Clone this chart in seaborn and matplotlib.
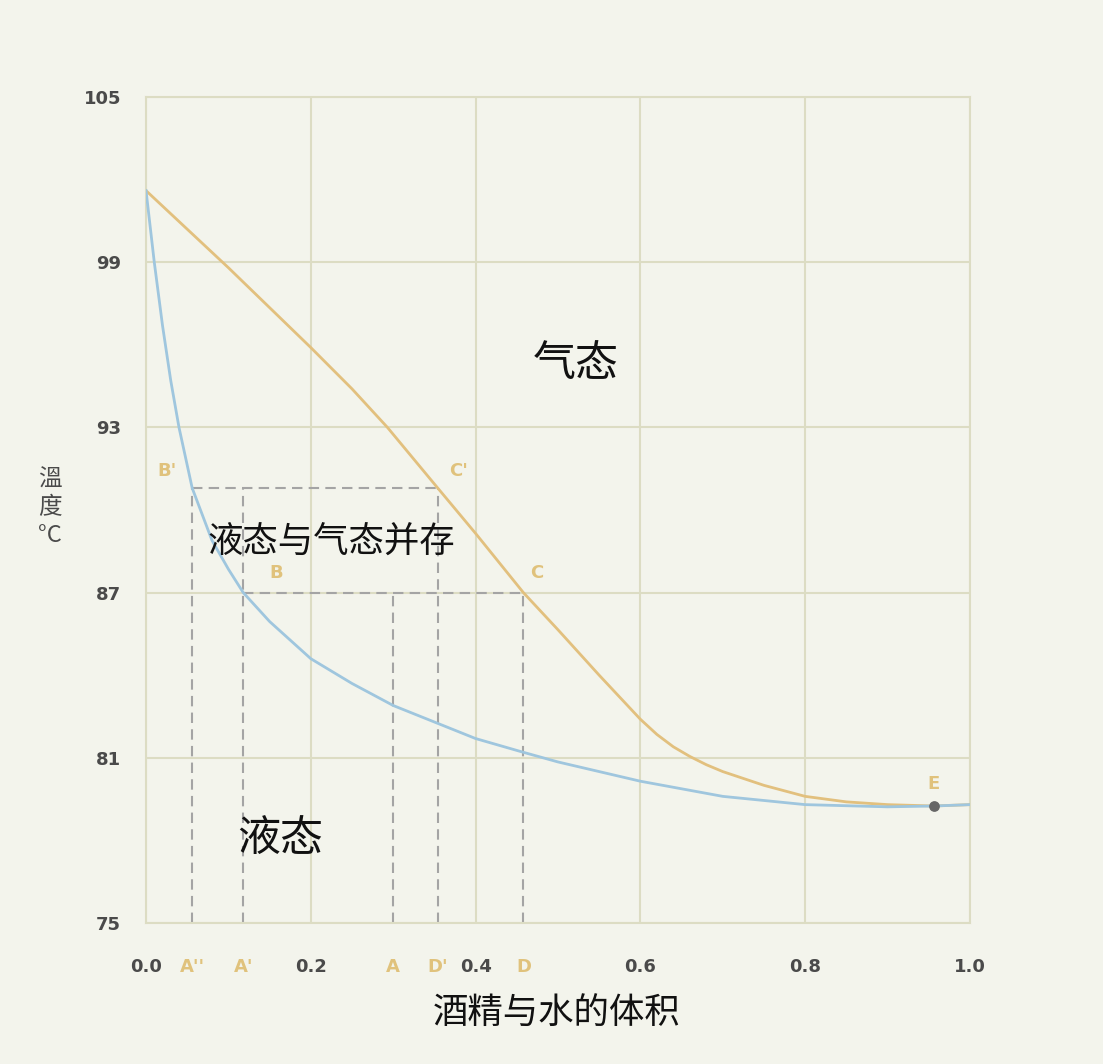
"""Ethanol-water boiling diagram (temperature vs volume fraction)."""

import matplotlib
matplotlib.use("Agg")
import matplotlib.pyplot as plt
import numpy as np
import pandas as pd
import seaborn as sns

# vapour (dew) line
vapor_x = [0.0, 0.05, 0.1, 0.15, 0.2, 0.25, 0.293, 0.354, 0.4, 0.458, 0.5, 0.55,
           0.6, 0.62, 0.64, 0.66, 0.68, 0.7, 0.75, 0.8, 0.85, 0.9, 0.956, 1.0]
vapor_y = [101.6, 100.2, 98.8, 97.35, 95.9, 94.4, 93.0, 90.8, 89.15, 87.0, 85.65, 84.0,
           82.4, 81.85, 81.4, 81.05, 80.75, 80.5, 80.0, 79.6, 79.4, 79.3, 79.25, 79.3]
# liquid (bubble) line
liquid_x = [0.0, 0.01, 0.02, 0.03, 0.04, 0.056, 0.08, 0.1, 0.118, 0.15, 0.2, 0.25, 0.3,
            0.35, 0.4, 0.458, 0.5, 0.6, 0.7, 0.8, 0.9, 0.956, 1.0]
liquid_y = [101.6, 99.0, 96.7, 94.7, 93.0, 90.8, 88.9, 87.85, 87.0, 85.95, 84.6, 83.7, 82.9,
            82.3, 81.7, 81.2, 80.85, 80.15, 79.6, 79.3, 79.22, 79.25, 79.3]

# marked points
pt_names = ["B'", "C'", "B", "C", "E"]
pt_x = [0.056, 0.354, 0.118, 0.458, 0.956]
pt_y = [90.8, 90.8, 87.0, 87.0, 79.25]

letter_ticks = [0.056, 0.118, 0.3, 0.354, 0.458]
letter_labels = ["A''", "A'", "A", "D'", "D"]
num_ticks = [0.0, 0.2, 0.4, 0.6, 0.8, 1.0]
y_ticks = [75, 81, 87, 93, 99, 105]

BG = "#f3f4ec"
GRID = "#dcdcc3"
GOLD = "#e0c27c"
ORANGE = "#e2c07e"
BLUE = "#9fc6de"
DARK = "#4a4a4a"
CJK = ["Noto Sans CJK SC", "DejaVu Sans"]

plt.rcParams["font.family"] = CJK

fig = plt.figure(figsize=(11.03, 10.64), dpi=100, facecolor=BG)
ax = fig.add_axes([0.1324, 0.1325, 0.747, 0.7763], facecolor=BG)

df = pd.concat([
    pd.DataFrame({"x": vapor_x, "y": vapor_y, "curve": "vapor"}),
    pd.DataFrame({"x": liquid_x, "y": liquid_y, "curve": "liquid"}),
])
sns.lineplot(data=df, x="x", y="y", hue="curve", palette={"vapor": ORANGE, "liquid": BLUE},
             sort=False, estimator=None, lw=2, legend=False, ax=ax, zorder=3)

# dashed construction lines
dash = dict(color="#a4a4a4", ls=(0, (5, 3)), lw=1.5, zorder=2)
ax.plot([pt_x[0], pt_x[1]], [pt_y[0], pt_y[0]], **dash)
ax.plot([pt_x[2], pt_x[3]], [pt_y[2], pt_y[2]], **dash)
ax.plot([letter_ticks[0]] * 2, [75, pt_y[0]], **dash)
ax.plot([letter_ticks[1]] * 2, [75, pt_y[0]], **dash)
ax.plot([letter_ticks[2]] * 2, [75, pt_y[2]], **dash)
ax.plot([letter_ticks[3]] * 2, [75, pt_y[0]], **dash)
ax.plot([letter_ticks[4]] * 2, [75, pt_y[2]], **dash)

ax.scatter([pt_x[4]], [pt_y[4]], s=45, color="#666666", zorder=4)

offsets = {"B'": (-0.03, 0.6), "C'": (0.025, 0.6), "B": (0.04, 0.7), "C": (0.016, 0.7), "E": (0.0, 0.8)}
for n, px, py in zip(pt_names, pt_x, pt_y):
    dx, dy = offsets[n]
    ax.text(px + dx, py + dy, n, color=GOLD, fontsize=13, ha="center", va="center",
            fontweight="bold", family="DejaVu Sans")

ax.set_xlim(0, 1)
ax.set_ylim(75, 105)
ax.set_xticks(num_ticks)
ax.set_xticklabels([f"{t:.1f}" for t in num_ticks], fontsize=13, fontweight="bold",
                   color=DARK, family="DejaVu Sans")
ax.set_xticks(letter_ticks, minor=True)
ax.set_xticklabels(letter_labels, minor=True, fontsize=13, fontweight="bold",
                   color=GOLD, family="DejaVu Sans")
ax.set_yticks(y_ticks)
ax.set_yticklabels([str(t) for t in y_ticks], fontsize=13, fontweight="bold",
                   color=DARK, family="DejaVu Sans")
ax.tick_params(axis="x", which="both", length=0, pad=25)
ax.tick_params(axis="y", which="both", length=0, pad=18)
ax.grid(True, which="major", color=GRID, lw=1.5)
ax.set_axisbelow(True)
for s in ax.spines.values():
    s.set_color(GRID)
    s.set_linewidth(1.5)

ax.set_xlabel("")
ax.set_ylabel("")
ax.text(0.521, 95.3, "气态", fontsize=31, ha="center", va="center", color="#111111")
ax.text(0.225, 88.85, "液态与气态并存", fontsize=25.5, ha="center", va="center", color="#111111")
ax.text(0.163, 78.0, "液态", fontsize=31, ha="center", va="center", color="#111111")
fig.text(0.505, 0.047, "酒精与水的体积", fontsize=25.5, ha="center", va="center", color="#111111")
fig.text(0.045, 0.523, "溫\n度\n°C", fontsize=17, ha="center", va="center", color=DARK,
         linespacing=1.25)

fig.savefig("out.png", dpi=100, facecolor=BG)
